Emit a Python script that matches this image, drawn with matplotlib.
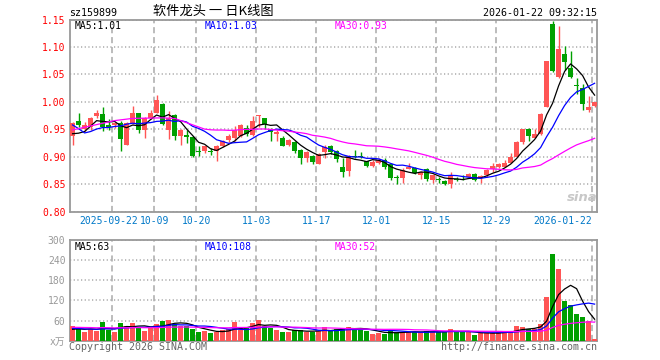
import matplotlib
matplotlib.use("Agg")
import matplotlib.pyplot as plt
import matplotlib.transforms as mtransforms
import numpy as np
import pandas as pd

# ---------------- data ----------------
open_ = [0.938, 0.966, 0.951, 0.955, 0.975, 0.978, 0.957, 0.958, 0.962, 0.922,
         0.962, 0.979, 0.948, 0.971, 0.980, 0.997, 0.948, 0.976, 0.937, 0.940,
         0.936, 0.911, 0.910, 0.911, 0.911, 0.920, 0.931, 0.934, 0.937, 0.953,
         0.939, 0.974, 0.970, 0.949, 0.942, 0.935, 0.921, 0.927, 0.913, 0.897,
         0.902, 0.887, 0.908, 0.920, 0.910, 0.881, 0.875, 0.901, 0.902, 0.892,
         0.883, 0.889, 0.895, 0.886, 0.863, 0.861, 0.878, 0.880, 0.867, 0.878,
         0.858, 0.859, 0.856, 0.851, 0.859, 0.860, 0.864, 0.868, 0.861, 0.867,
         0.877, 0.882, 0.882, 0.889, 0.900, 0.927, 0.951, 0.935, 0.941, 0.991,
         1.142, 1.046, 1.088, 1.061, 1.031, 1.026, 0.985, 0.992]
high = [0.963, 0.979, 0.963, 0.972, 0.985, 0.990, 0.968, 0.964, 0.965, 0.963,
        0.992, 0.979, 0.972, 0.985, 1.012, 0.998, 0.983, 0.978, 0.950, 0.949,
        0.937, 0.919, 0.920, 0.916, 0.921, 0.930, 0.942, 0.956, 0.959, 0.958,
        0.974, 0.976, 0.971, 0.952, 0.948, 0.937, 0.933, 0.929, 0.914, 0.910,
        0.903, 0.907, 0.922, 0.922, 0.912, 0.898, 0.903, 0.913, 0.909, 0.893,
        0.895, 0.897, 0.898, 0.889, 0.866, 0.879, 0.888, 0.882, 0.874, 0.880,
        0.867, 0.864, 0.858, 0.872, 0.864, 0.867, 0.870, 0.870, 0.867, 0.877,
        0.889, 0.889, 0.894, 0.906, 0.928, 0.951, 0.952, 0.951, 0.979, 1.075,
        1.147, 1.139, 1.102, 1.093, 1.044, 1.032, 1.010, 1.000]
low = [0.921, 0.954, 0.947, 0.949, 0.971, 0.947, 0.949, 0.953, 0.910, 0.921,
       0.960, 0.944, 0.935, 0.969, 0.979, 0.957, 0.933, 0.930, 0.921, 0.925,
       0.899, 0.901, 0.907, 0.904, 0.893, 0.918, 0.927, 0.929, 0.936, 0.937,
       0.937, 0.955, 0.950, 0.928, 0.929, 0.919, 0.919, 0.907, 0.886, 0.890,
       0.886, 0.886, 0.898, 0.905, 0.890, 0.864, 0.865, 0.897, 0.897, 0.881,
       0.881, 0.886, 0.878, 0.858, 0.851, 0.852, 0.877, 0.868, 0.860, 0.856,
       0.853, 0.852, 0.849, 0.843, 0.855, 0.857, 0.861, 0.856, 0.853, 0.864,
       0.872, 0.879, 0.881, 0.888, 0.899, 0.924, 0.929, 0.934, 0.940, 0.990,
       1.054, 1.044, 1.058, 1.044, 1.015, 0.985, 0.982, 0.990]
close = [0.962, 0.958, 0.958, 0.971, 0.980, 0.955, 0.954, 0.962, 0.932, 0.962,
         0.979, 0.948, 0.971, 0.979, 1.003, 0.960, 0.971, 0.937, 0.949, 0.936,
         0.901, 0.909, 0.919, 0.908, 0.920, 0.929, 0.937, 0.949, 0.957, 0.942,
         0.965, 0.975, 0.959, 0.945, 0.946, 0.920, 0.931, 0.911, 0.898, 0.909,
         0.890, 0.905, 0.917, 0.908, 0.896, 0.872, 0.901, 0.900, 0.900, 0.883,
         0.890, 0.895, 0.881, 0.861, 0.861, 0.876, 0.881, 0.870, 0.873, 0.859,
         0.866, 0.858, 0.851, 0.867, 0.857, 0.859, 0.868, 0.858, 0.865, 0.876,
         0.883, 0.886, 0.888, 0.900, 0.927, 0.951, 0.937, 0.942, 0.9775, 1.074,
         1.057, 1.0955, 1.073, 1.046, 1.029, 0.996, 0.9915, 0.999]
volume = [44, 36, 26, 36, 29, 56, 32, 26, 53, 44,
          53, 42, 29, 38, 50, 59, 62, 50, 44, 44,
          35, 26, 29, 23, 26, 32, 35, 56, 32, 38,
          53, 62, 44, 38, 32, 26, 26, 32, 32, 26,
          26, 29, 41, 29, 35, 37, 41, 38, 32, 29,
          20, 23, 20, 29, 26, 26, 26, 26, 26, 29,
          26, 26, 26, 35, 26, 26, 26, 18, 23, 23,
          23, 26, 26, 29, 44, 41, 35, 35, 50, 130,
          258, 214, 118, 105, 80, 72, 58, 5]
# closes / volumes of the 29 sessions before the first visible day
# (estimated so that the moving-average lines start where the chart shows them)
prev_close = [0.885, 0.885, 0.898, 0.907, 0.882, 0.881, 0.889, 0.892, 0.922, 0.939,
              0.942, 0.965, 0.973, 0.997, 0.954, 0.986, 0.952, 1.066, 1.053, 1.018,
              1.026, 1.036, 0.945, 0.935, 0.928, 0.953, 0.943, 0.922, 0.930]
prev_volume = [45, 38, 42, 50, 36, 40, 44, 39, 47, 35,
               41, 43, 38, 46, 40, 37, 44, 42, 39, 44,
               42, 38, 41, 36, 43, 30, 33, 29, 34]
date_idx = [7, 14, 21, 31, 41, 51, 61, 71, 87]
date_labels = ["2025-09-22", "10-09", "10-20", "11-03", "11-17",
               "12-01", "12-15", "12-29", "2026-01-22"]
price_ticks = [0.80, 0.85, 0.90, 0.95, 1.00, 1.05, 1.10, 1.15]
vol_ticks = [0, 60, 120, 180, 240, 300]
vol_tick_labels = ["x万", "60", "120", "180", "240", "300"]
code = "sz159899"
title = "软件龙头 一 日K线图"
stamp = "2026-01-22 09:32:15"

# ---------------- style ----------------
RED = "#ff5555"
GREEN = "#00a000"
GRID = "#aaaaaa"
SPINE = "#999999"
MONO = ["DejaVu Sans Mono", "Noto Sans CJK SC"]
plt.rcParams["font.family"] = MONO

W, H = 660, 360
fig = plt.figure(figsize=(W / 100, H / 100), dpi=100)
axp = fig.add_axes([70.3 / W, 1 - 211.7 / H, 527 / W, 192.2 / H])
axv = fig.add_axes([70.3 / W, 1 - 340.7 / H, 527 / W, 100.7 / H])

o = np.array(open_); h = np.array(high); l = np.array(low); c = np.array(close)
v = np.array(volume, dtype=float)
n = len(c)
x = np.arange(n)
up = c >= o
cols = np.where(up, RED, GREEN)

# moving averages
all_c = pd.Series(list(prev_close) + list(close))
all_v = pd.Series(list(prev_volume) + list(volume), dtype=float)
k = len(prev_close)
ma = {p: all_c.rolling(p).mean().to_numpy()[k:] for p in (5, 10, 30)}
vma = {p: all_v.rolling(p).mean().to_numpy()[k:] for p in (5, 10, 30)}

# candles
axp.vlines(x, l, h, colors=cols, lw=1.0, zorder=3)
axp.bar(x, np.maximum(np.abs(c - o), 0.0012), bottom=np.minimum(o, c),
        width=0.8, color=cols, lw=0, zorder=4)
axp.plot(x, ma[5], color="black", lw=0.9, zorder=5)
axp.plot(x, ma[10], color="#0000ff", lw=0.9, zorder=5)
axp.plot(x, ma[30], color="#ff00ff", lw=0.9, zorder=5)

# volume
axv.bar(x, v, width=0.8, color=cols, lw=0, zorder=3)
axv.plot(x, vma[5], color="black", lw=0.9, zorder=5)
axv.plot(x, vma[10], color="#0000ff", lw=0.9, zorder=5)
axv.plot(x, vma[30], color="#ff00ff", lw=0.9, zorder=5)

xt = np.array(date_idx) - 0.38
for ax in (axp, axv):
    ax.set_xlim(-0.383, 87.45)
    ax.set_xticks(xt)
    ax.grid(True, axis="x", linestyle=(0, (4, 2.5)), color=GRID, lw=1.1, zorder=1)
    ax.grid(True, axis="y", linestyle=(0, (0.8, 1.6)), color=GRID, lw=1.1, zorder=1)
    ax.set_axisbelow(True)
    for s in ax.spines.values():
        s.set_color(SPINE)
        s.set_linewidth(1.3)
    ax.tick_params(length=0)

axp.set_ylim(0.80, 1.15)
axp.set_yticks(price_ticks)
axp.set_yticklabels([f"{t:.2f}" for t in price_ticks])
axp.tick_params(axis="y", colors="#ff0000", labelsize=7, pad=3.5)
axp.set_xticklabels(date_labels)
axp.tick_params(axis="x", colors="#0078c8", labelsize=7.0, pad=3)
xl = axp.get_xticklabels()
xl[-1].set_horizontalalignment("right")
xl[0].set_transform(xl[0].get_transform() +
                    mtransforms.ScaledTranslation(-3.5 / 100, 0, fig.dpi_scale_trans))

axv.set_ylim(0, 300)
axv.set_yticks(vol_ticks)
axv.set_yticklabels(vol_tick_labels)
axv.tick_params(axis="y", colors="#999999", labelsize=7, pad=3.5)
axv.set_xticklabels([])

# panel labels
axp.text(0.009, 0.965, f"MA5:{ma[5][-1]:.2f}", transform=axp.transAxes,
         color="black", fontsize=7, va="center")
axp.text(0.2556, 0.965, f"MA10:{ma[10][-1]:.2f}", transform=axp.transAxes,
         color="#0000ff", fontsize=7, va="center")
axp.text(0.5023, 0.965, f"MA30:{ma[30][-1]:.2f}", transform=axp.transAxes,
         color="#ff00ff", fontsize=7, va="center")
axv.text(0.009, 0.933, "MA5:63", transform=axv.transAxes,
         color="black", fontsize=7, va="center")
axv.text(0.2556, 0.933, "MA10:108", transform=axv.transAxes,
         color="#0000ff", fontsize=7, va="center")
axv.text(0.5023, 0.933, "MA30:52", transform=axv.transAxes,
         color="#ff00ff", fontsize=7, va="center")
axp.text(0.972, 0.075, "sina", transform=axp.transAxes, color="#c8c8c8",
         fontsize=9.5, fontstyle="italic", fontweight="bold", ha="center",
         va="center", family="DejaVu Sans", zorder=2)

# header / footer
fig.text(69.3 / W, 1 - 13.3 / H, code, fontsize=7.2, va="center", color="black")
fig.text(213 / W, 1 - 11.7 / H, title, fontsize=9.5, va="center", ha="center",
         color="black", family=["Noto Sans CJK SC", "DejaVu Sans"])
fig.text(597.3 / W, 1 - 13.3 / H, stamp, fontsize=7.2, va="center", ha="right",
         color="black")
fig.text(69.3 / W, 1 - 346.5 / H, "Copyright 2026 SINA.COM", fontsize=7.2,
         va="center", color="#666666")
fig.text(597.3 / W, 1 - 346.5 / H, "http://finance.sina.com.cn", fontsize=7.2,
         va="center", ha="right", color="#666666")

fig.savefig("out.png", dpi=100)
